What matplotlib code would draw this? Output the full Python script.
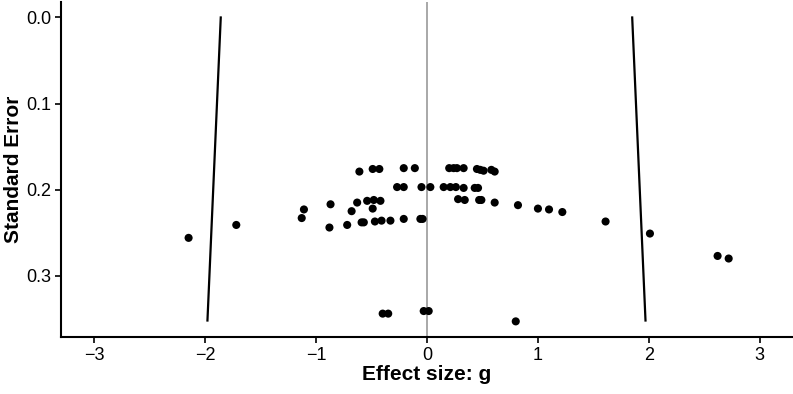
import numpy as np
import matplotlib
matplotlib.use("Agg")
import matplotlib.pyplot as plt

plt.rcParams['font.family'] = ['Liberation Sans', 'DejaVu Sans']

# Study effect sizes (g) and their standard errors
g = [-2.15, -1.72, -1.11, -1.13, -0.87, -0.88, -0.72, -0.68, -0.63, -0.61,
     -0.49, -0.43, -0.54, -0.48, -0.42, -0.49, -0.59, -0.57, -0.47, -0.41,
     -0.33, -0.21, -0.06, -0.04, -0.21, -0.11, -0.27, -0.21, -0.05, 0.03,
     0.15, 0.21, 0.26, 0.33, 0.43, 0.46, 0.20, 0.24, 0.27, 0.33,
     0.45, 0.48, 0.51, 0.58, 0.61, 0.28, 0.34, 0.47, 0.49, 0.61,
     0.82, 1.00, 1.10, 1.22, 1.61, 2.01, 2.62, 2.72,
     -0.40, -0.35, -0.03, 0.015, 0.80]
se = [0.256, 0.241, 0.223, 0.233, 0.217, 0.244, 0.241, 0.225, 0.215, 0.179,
      0.176, 0.176, 0.213, 0.212, 0.213, 0.222, 0.238, 0.238, 0.237, 0.236,
      0.236, 0.234, 0.234, 0.234, 0.175, 0.175, 0.197, 0.197, 0.197, 0.197,
      0.197, 0.197, 0.197, 0.198, 0.198, 0.198, 0.175, 0.175, 0.175, 0.175,
      0.176, 0.177, 0.178, 0.177, 0.179, 0.211, 0.212, 0.212, 0.212, 0.215,
      0.218, 0.222, 0.223, 0.226, 0.237, 0.251, 0.277, 0.280,
      0.344, 0.344, 0.341, 0.341, 0.353]

# funnel boundaries
left_x = [-1.86, -1.98]
right_x = [1.85, 1.97]
funnel_se = [0.0, 0.352]

fig = plt.figure(figsize=(7.93, 3.94), dpi=100)
ax = fig.add_axes([0.077, 0.145, 0.923, 0.85])

ax.axvline(0, color='#999999', lw=1.2, zorder=1)
ax.plot(left_x, funnel_se, color='black', lw=1.6, zorder=2)
ax.plot(right_x, funnel_se, color='black', lw=1.6, zorder=2)
ax.scatter(g, se, s=34, color='black', edgecolors='none', zorder=3)

ax.set_xlim(-3.3, 3.3)
ax.set_ylim(0.371, -0.018)
ax.set_xticks([-3, -2, -1, 0, 1, 2, 3])
ax.set_yticks([0.0, 0.1, 0.2, 0.3])
ax.set_yticklabels(['0.0', '0.1', '0.2', '0.3'])

for side in ['top', 'right']:
    ax.spines[side].set_visible(False)
for side in ['left', 'bottom']:
    ax.spines[side].set_linewidth(1.5)

ax.tick_params(axis='both', labelsize=13, length=4, width=1.2, colors='black', pad=3)
ax.set_xlabel('Effect size: g', fontsize=15, fontweight='bold', labelpad=1)
ax.set_ylabel('Standard Error', fontsize=15, fontweight='bold', labelpad=2)

fig.savefig('out.png', dpi=100)
